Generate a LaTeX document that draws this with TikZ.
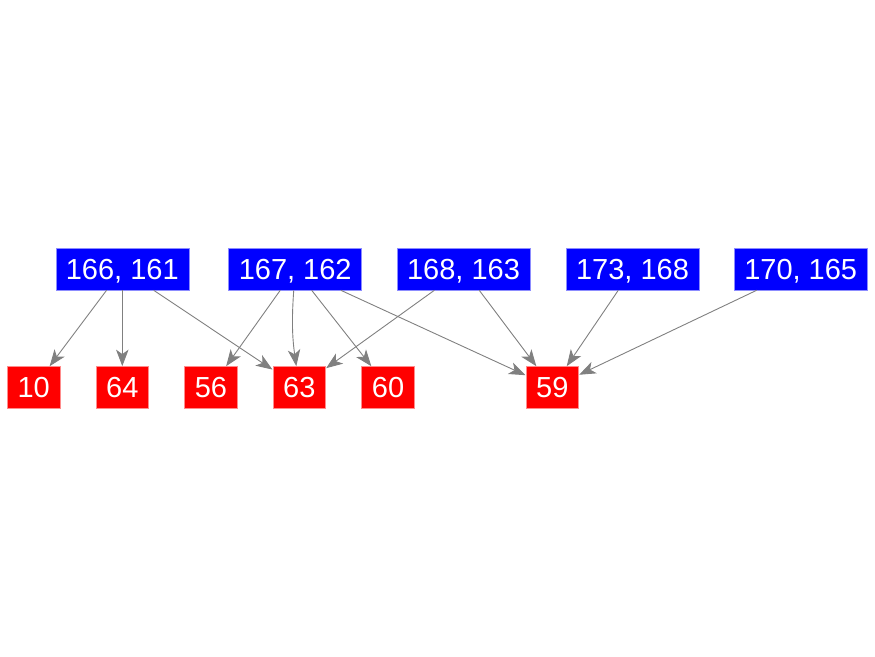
\documentclass[tikz,border=0pt]{standalone}
\usepackage{fontspec}
\setmainfont{Liberation Sans}
\usetikzlibrary{arrows.meta}
\tikzset{
  boxbase/.style={text=white, line width=0.5pt, inner sep=0pt, text height=20.8pt, text depth=0pt, font=\fontsize{29}{30}\selectfont},
  bluebox/.style={boxbase, fill=blue, draw=blue!45!white, minimum width=133pt, minimum height=41.5pt},
  redbox/.style={boxbase, fill=red, draw=red!45!white, minimum width=52.7pt, minimum height=41.6pt},
  edge/.style={draw=gray, line width=0.9pt, -{Stealth[length=16.5pt, width=12.5pt, inset=4.5pt]}, shorten >=0.3pt}
}
\begin{document}
\begin{tikzpicture}[x=1pt,y=1pt]
\useasboundingbox (0,0) rectangle (875,656);
\node[bluebox] (b1) at (122.3,386.7) {166, 161};
\node[bluebox] (b2) at (295.2,386.7) {167, 162};
\node[bluebox] (b3) at (463.5,386.7) {168, 163};
\node[bluebox] (b4) at (632.5,386.7) {173, 168};
\node[bluebox] (b5) at (800.7,386.7) {170, 165};
\node[redbox] (r10) at (33.7,268.5) {10};
\node[redbox] (r64) at (122.3,268.5) {64};
\node[redbox] (r56) at (211,268.5) {56};
\node[redbox] (r63) at (299.3,268.5) {63};
\node[redbox] (r60) at (388,268.5) {60};
\node[redbox] (r59) at (552.3,268.5) {59};
\draw[edge] (b1) -- (r10);
\draw[edge] (b1) -- (r64);
\draw[edge] (b1) -- (r63);
\draw[edge] (b2) -- (r56);
\draw[edge] (b2) to[bend right=6] (r63);
\draw[edge] (b2) -- (r60);
\draw[edge] (b2) -- (r59);
\draw[edge] (b3) -- (r63);
\draw[edge] (b3) -- (r59);
\draw[edge] (b4) -- (r59);
\draw[edge] (b5) -- (r59);
\end{tikzpicture}
\end{document}
